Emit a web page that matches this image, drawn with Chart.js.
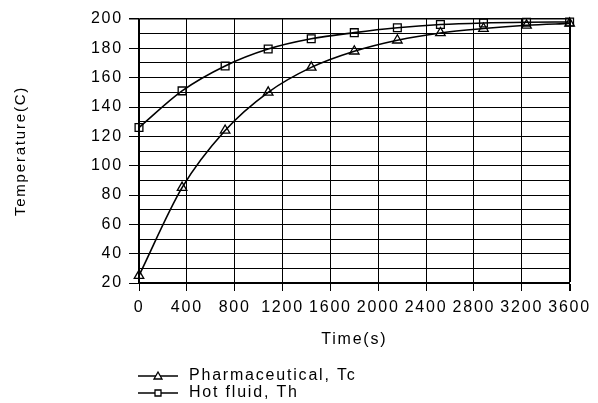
<!DOCTYPE html>
<html>
<head>
<meta charset="utf-8">
<script src="https://cdn.jsdelivr.net/npm/chart.js@4/dist/chart.umd.min.js"></script>
<style>
  body { margin: 0; background: #fff; }
  #wrap { width: 598px; height: 403px; }
</style>
</head>
<body>
<div id="wrap"><canvas id="chart" width="598" height="403"></canvas></div>
<script>
// --- data ---
const times = [0, 360, 720, 1080, 1440, 1800, 2160, 2520, 2880, 3240, 3600];
const tcValues = [25, 85, 124, 150, 167, 178, 185.5, 190.5, 193.5, 195.7, 197];
const thValues = [126, 151, 168, 179.5, 186.5, 190.7, 194, 196.2, 197.3, 197.8, 198];
const seriesNames = ['Pharmaceutical, Tc', 'Hot fluid, Th'];
const seriesMarkers = ['triangle', 'rect'];
const xTicks = [0, 400, 800, 1200, 1600, 2000, 2400, 2800, 3200, 3600];
const yTicks = [20, 40, 60, 80, 100, 120, 140, 160, 180, 200];

const FONT = 'Liberation Sans';
const SPACING = '1.8px';

function setSpacing(chart) {
    chart.ctx.letterSpacing = SPACING;
}

// wide-spaced text like the original export
const spacingPlugin = {
    id: 'spacing',
    beforeInit: setSpacing,
    beforeUpdate: setSpacing,
    beforeLayout: setSpacing,
    beforeDraw: setSpacing
};

// legend under the axis: short line with marker, then the name
const legendPlugin = {
    id: 'bottomLegend',
    afterDraw(chart) {
        const ctx = chart.ctx;
        ctx.save();
        ctx.letterSpacing = SPACING;
        ctx.strokeStyle = '#000';
        ctx.fillStyle = '#000';
        ctx.font = '16px "' + FONT + '"';
        ctx.textBaseline = 'middle';
        seriesNames.forEach((name, i) => {
            const y = 376 + i * 17;
            ctx.lineWidth = 1.3;
            ctx.beginPath();
            ctx.moveTo(138, y);
            ctx.lineTo(178, y);
            ctx.stroke();
            ctx.beginPath();
            if (seriesMarkers[i] === 'triangle') {
                ctx.moveTo(158, y - 4);
                ctx.lineTo(154, y + 3);
                ctx.lineTo(162, y + 3);
                ctx.closePath();
            } else {
                ctx.rect(155, y - 3, 6, 6);
            }
            ctx.fillStyle = '#fff';
            ctx.fill();
            ctx.stroke();
            ctx.fillStyle = '#000';
            ctx.fillText(name, 189, y);
        });
        ctx.restore();
    }
};

function points(values) {
    return times.map((t, i) => ({ x: t, y: values[i] }));
}

const lineStyle = {
    borderColor: '#000',
    backgroundColor: 'rgba(0,0,0,0)',
    borderWidth: 1.6,
    pointRadius: 5.5,
    pointBorderWidth: 1.3,
    pointBorderColor: '#000',
    pointBackgroundColor: 'rgba(0,0,0,0)',
    cubicInterpolationMode: 'monotone',
    clip: false
};

new Chart(document.getElementById('chart'), {
    type: 'line',
    data: {
        datasets: [
            Object.assign({ label: seriesNames[0], data: points(tcValues), pointStyle: seriesMarkers[0] }, lineStyle),
            Object.assign({ label: seriesNames[1], data: points(thValues), pointStyle: seriesMarkers[1] }, lineStyle)
        ]
    },
    options: {
        responsive: false,
        animation: false,
        layout: { padding: { top: 19, right: 23, bottom: 50, left: 0 } },
        plugins: {
            legend: { display: false },
            tooltip: { enabled: false }
        },
        scales: {
            x: {
                type: 'linear',
                min: 0,
                max: 3600,
                afterBuildTicks: (scale) => { scale.ticks = xTicks.map(v => ({ value: v })); },
                afterFit: (scale) => { scale.height = 70; },
                ticks: {
                    color: '#000',
                    font: { family: FONT, size: 16 },
                    padding: 7,
                    maxRotation: 0,
                    autoSkip: false,
                    callback: (v) => String(v)
                },
                grid: {
                    color: '#000',
                    lineWidth: (c) => (c.tick && c.tick.value === 3600 ? 2 : 1),
                    tickLength: 8
                },
                border: { color: '#000', width: 2 },
                title: {
                    display: true,
                    text: 'Time(s)',
                    color: '#000',
                    font: { family: FONT, size: 16 },
                    padding: { top: 0, bottom: 4 }
                }
            },
            y: {
                type: 'linear',
                min: 20,
                max: 200,
                afterBuildTicks: (scale) => {
                    const t = [];
                    for (let v = 20; v <= 200; v += 10) t.push({ value: v });
                    scale.ticks = t;
                },
                afterFit: (scale) => { scale.width = 139; },
                ticks: {
                    color: '#000',
                    font: { family: FONT, size: 16 },
                    padding: 6,
                    autoSkip: false,
                    callback: (v) => (yTicks.includes(v) ? String(v) : '')
                },
                grid: {
                    color: '#000',
                    lineWidth: (c) => (c.tick && c.tick.value === 200 ? 1.5 : 1),
                    tickColor: (c) => (c.tick && yTicks.includes(c.tick.value) ? '#000' : 'rgba(0,0,0,0)'),
                    tickLength: 10
                },
                border: { color: '#000', width: 1.5 },
                title: {
                    display: true,
                    text: 'Temperature(C)',
                    color: '#000',
                    font: { family: FONT, size: 15 },
                    padding: { top: 12, bottom: 0 }
                }
            }
        }
    },
    plugins: [spacingPlugin, legendPlugin]
});
</script>
</body>
</html>
